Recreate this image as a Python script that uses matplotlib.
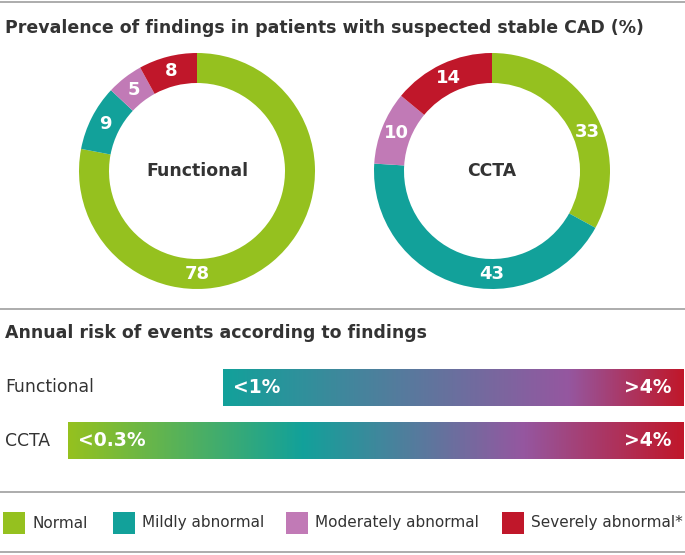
import matplotlib
matplotlib.use("Agg")
import matplotlib.pyplot as plt
import numpy as np
from matplotlib.colors import LinearSegmentedColormap

# data
categories = ["Normal", "Mildly abnormal", "Moderately abnormal", "Severely abnormal*"]
functional_pct = [78, 9, 5, 8]
ccta_pct = [33, 43, 10, 14]
risk_rows = ["Functional", "CCTA"]
risk_low = ["<1%", "<0.3%"]
risk_high = [">4%", ">4%"]

colors = ["#95c11f", "#12a19a", "#c17ab6", "#c0172a"]
purple = "#9557a0"
dark = "#333333"
grey = "#a6a6a6"

W, H = 685, 555
plt.rcParams["font.family"] = ["DejaVu Sans"]
fig = plt.figure(figsize=(W / 100, H / 100), dpi=100)

# full-figure axes in pixel coordinates for text, lines and bars
base = fig.add_axes([0, 0, 1, 1])
base.set_xlim(0, W)
base.set_ylim(H, 0)
base.axis("off")


def donut(values, name, cx, cy, label_angles, r=118, ring=30):
    ax = fig.add_axes([(cx - r) / W, (H - cy - r) / H, 2 * r / W, 2 * r / H])
    wedges, _ = ax.pie(values, colors=colors, startangle=90, counterclock=False,
                       radius=1, wedgeprops=dict(width=ring / r, linewidth=0))
    ax.set_xlim(-1, 1)
    ax.set_ylim(-1, 1)
    mid = 1 - ring / r / 2
    for w, v, a in zip(wedges, values, label_angles):
        # labels sit at the wedge middle unless an angle is given
        ang = np.deg2rad((w.theta1 + w.theta2) / 2 if a is None else a)
        ax.text(mid * np.cos(ang), mid * np.sin(ang), str(v), ha="center", va="center",
                color="white", fontsize=13, fontweight="bold")
    ax.text(0, 0, name, ha="center", va="center", color=dark, fontsize=12.4, fontweight="bold")


donut(functional_pct, "Functional", 197, 171, [-90, None, None, None])
donut(ccta_pct, "CCTA", 492, 171, [22, -90, None, None])

# separator lines
for y in [2, 309, 492, 552]:
    base.plot([0, W], [y, y], color=grey, lw=1.3, solid_capstyle="butt")

base.text(5, 28, "Prevalence of findings in patients with suspected stable CAD (%)",
          ha="left", va="center", color=dark, fontsize=12.5, fontweight="bold")
base.text(5, 333, "Annual risk of events according to findings",
          ha="left", va="center", color=dark, fontsize=12.5, fontweight="bold")

# gradient bars
bar_left = [223, 68]
bar_top = [369, 422]
bar_h = 37
bar_right = 684
stops = [
    [(0.0, colors[1]), (0.75, purple), (1.0, colors[3])],
    [(0.0, colors[0]), (0.38, colors[1]), (0.74, purple), (1.0, colors[3])],
]
grad = np.linspace(0, 1, 512).reshape(1, -1)
for i, row in enumerate(risk_rows):
    cmap = LinearSegmentedColormap.from_list(row, stops[i])
    base.imshow(grad, cmap=cmap, aspect="auto",
                extent=[bar_left[i], bar_right, bar_top[i] + bar_h, bar_top[i]])
    yc = bar_top[i] + bar_h / 2
    base.text(5, yc, row, ha="left", va="center", color=dark, fontsize=12.4)
    base.text(bar_left[i] + 10, yc, risk_low[i], ha="left", va="center",
              color="white", fontsize=13.5, fontweight="bold")
    base.text(bar_right - 12, yc, risk_high[i], ha="right", va="center",
              color="white", fontsize=13.5, fontweight="bold")
base.set_xlim(0, W)
base.set_ylim(H, 0)

# legend
leg_x = [3, 113, 286, 502]
for x, c, lab in zip(leg_x, colors, categories):
    base.add_patch(plt.Rectangle((x, 512), 22, 22, color=c, lw=0))
    base.text(x + 29, 523, lab, ha="left", va="center", color=dark, fontsize=11)

fig.savefig("out.png", dpi=100)
